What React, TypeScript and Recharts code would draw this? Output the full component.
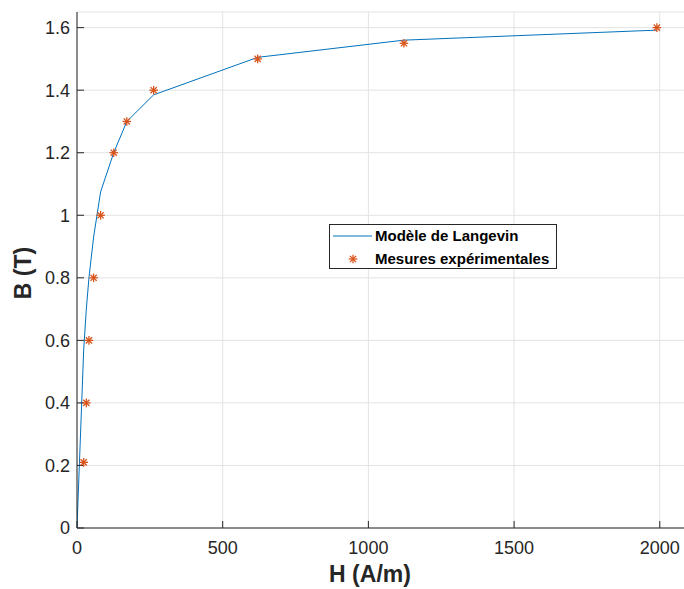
import { ComposedChart, Line, Scatter, XAxis, YAxis, CartesianGrid, Label } from 'recharts';

// measured points (H in A/m, B in T)
const measH = [23, 32, 41, 57, 81, 126, 171, 263, 620, 1122, 1990];
const measB = [0.21, 0.4, 0.6, 0.8, 1.0, 1.2, 1.3, 1.4, 1.5, 1.55, 1.6];

// Langevin model evaluated at the same fields
const modelH = [0, 23, 32, 41, 57, 81, 126, 171, 263, 620, 1122, 1990];
const modelB = [0, 0.57, 0.7, 0.8, 0.93, 1.075, 1.2, 1.3, 1.385, 1.505, 1.56, 1.592];

const xTicks = [0, 500, 1000, 1500, 2000];
const yTicks = [0, 0.2, 0.4, 0.6, 0.8, 1, 1.2, 1.4, 1.6];

const measData = measH.map((h, i) => ({ H: h, B: measB[i] }));
const modelData = modelH.map((h, i) => ({ H: h, B: modelB[i] }));

const AXIS = '#262626';
const BLUE = '#0072BD';
const ORANGE = '#D95319';
const FONT = '"Liberation Sans", Arial, Helvetica, sans-serif';

function Star({ cx, cy }: { cx?: number; cy?: number }) {
  if (cx == null || cy == null) return null;
  const r = 4.3;
  const d = r * 0.72;
  return (
    <g stroke={ORANGE} strokeWidth={1.3}>
      <line x1={cx - r} y1={cy} x2={cx + r} y2={cy} />
      <line x1={cx} y1={cy - r} x2={cx} y2={cy + r} />
      <line x1={cx - d} y1={cy - d} x2={cx + d} y2={cy + d} />
      <line x1={cx - d} y1={cy + d} x2={cx + d} y2={cy - d} />
    </g>
  );
}

function LegendBox() {
  return (
    <div
      style={{
        position: 'absolute',
        left: 329,
        top: 224,
        width: 228,
        height: 45,
        border: `1px solid ${AXIS}`,
        background: '#fff',
        boxSizing: 'border-box',
      }}
    >
      <svg width={228} height={45} style={{ position: 'absolute', left: -1, top: -1 }}>
        <line x1={4} y1={12} x2={43} y2={12} stroke={BLUE} strokeWidth={1} />
        <Star cx={24} cy={35} />
        <text x={46} y={17} fontFamily={FONT} fontWeight="bold" fontSize={15}>Modèle de Langevin</text>
        <text x={46} y={40} fontFamily={FONT} fontWeight="bold" fontSize={15}>Mesures expérimentales</text>
      </svg>
    </div>
  );
}

export default function App() {
  const tickStyle = { fill: AXIS, fontSize: 18, fontFamily: FONT };
  return (
    <div style={{ position: 'absolute', left: 0, top: 0, width: 684, height: 589, overflow: 'hidden', background: '#fff' }}>
      <ComposedChart width={700} height={589} margin={{ top: 12, right: 14, bottom: 0, left: 0 }}>
        <CartesianGrid stroke="#e3e3e3" strokeWidth={1} xAxisId="bottom" yAxisId="left" />
        <XAxis
          xAxisId="bottom"
          type="number"
          dataKey="H"
          domain={[0, 2090]}
          ticks={xTicks}
          allowDataOverflow
          height={61}
          stroke={AXIS}
          tickSize={-7}
          tickMargin={20}
          tick={tickStyle}
        >
          <Label
            content={() => (
              <text x={370} y={582} textAnchor="middle" fontFamily={FONT} fontWeight="bold" fontSize={23} fill={AXIS}>
                H (A/m)
              </text>
            )}
          />
        </XAxis>
        <XAxis
          xAxisId="top"
          orientation="top"
          type="number"
          dataKey="H"
          domain={[0, 2090]}
          ticks={xTicks}
          allowDataOverflow
          height={0}
          stroke={AXIS}
          tickSize={-7}
          tickFormatter={() => ''}
        />
        <YAxis
          yAxisId="left"
          type="number"
          dataKey="B"
          domain={[0, 1.65]}
          ticks={yTicks}
          allowDataOverflow
          width={77}
          stroke={AXIS}
          tickSize={-7}
          tickMargin={14}
          tick={tickStyle}
        >
          <Label
            content={() => (
              <text
                x={0}
                y={0}
                transform="translate(31 273) rotate(-90)"
                textAnchor="middle"
                fontFamily={FONT}
                fontWeight="bold"
                fontSize={23}
                fill={AXIS}
              >
                B (T)
              </text>
            )}
          />
        </YAxis>
        <YAxis
          yAxisId="right"
          orientation="right"
          type="number"
          dataKey="B"
          domain={[0, 1.65]}
          ticks={yTicks}
          allowDataOverflow
          width={0}
          stroke={AXIS}
          tickSize={-7}
          tickFormatter={() => ''}
        />
        <Line
          xAxisId="bottom"
          yAxisId="left"
          data={modelData}
          dataKey="B"
          type="linear"
          stroke={BLUE}
          strokeWidth={1}
          dot={false}
          isAnimationActive={false}
        />
        <Scatter
          xAxisId="bottom"
          yAxisId="left"
          data={measData}
          dataKey="B"
          shape={(p: any) => <Star cx={p.cx} cy={p.cy} />}
          isAnimationActive={false}
        />
      </ComposedChart>
      <LegendBox />
    </div>
  );
}
